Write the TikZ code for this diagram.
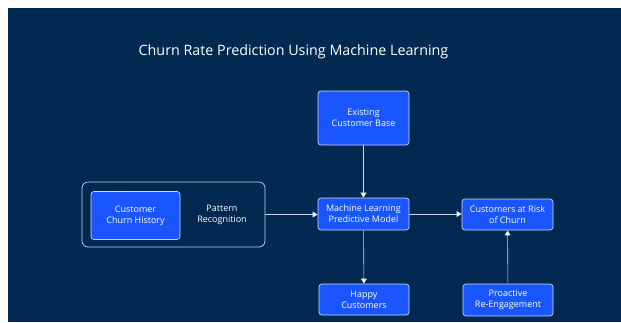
\documentclass[tikz,border=0pt]{standalone}
\usepackage{fontspec}
\setmainfont{Open Sans}
\usetikzlibrary{arrows.meta}
\definecolor{navy}{RGB}{1,41,82}
\definecolor{boxblue}{RGB}{26,86,255}
\definecolor{paleline}{RGB}{205,215,235}
\begin{document}
\begin{tikzpicture}[x=1pt,y=-1pt,
        box/.style={draw=paleline,line width=0.7pt,fill=boxblue,rounded corners=3pt,
                    text=white,font=\fontsize{9}{11}\selectfont,align=center,inner sep=0pt},
        flow/.style={draw=paleline,line width=0.6pt,-{Triangle[width=6pt,length=5pt,fill=white]}}]
        \useasboundingbox (0,0) rectangle (621,322);
        \fill[white] (0,0) rectangle (621,322);
        \fill[navy] (8,8) rectangle (621,322);

        \node[text=white,font=\fontsize{14.3}{17}\selectfont] (title) at (293.5,52) {Churn Rate Prediction Using Machine Learning};

        % left group
        \draw[paleline,line width=0.7pt,rounded corners=6pt] (82,182) rectangle (265,247);
        \coordinate (grpE) at (265,214.5);
        \node[box,minimum width=89pt,minimum height=48pt] (hist) at (135.5,215.5) {Customer\\Churn History};
        \node[text=white,font=\fontsize{9}{11}\selectfont,align=center] (pat) at (222,214.5) {Pattern\\Recognition};

        \node[box,minimum width=91pt,minimum height=54pt] (base) at (363.5,118) {Existing\\Customer Base};
        \node[box,minimum width=91pt,minimum height=32pt] (model) at (363.5,214) {Machine Learning\\Predictive Model};
        \node[box,minimum width=91pt,minimum height=31pt] (risk) at (507.5,214.5) {Customers at Risk\\of Churn};
        \node[box,minimum width=90pt,minimum height=31pt] (happy) at (364,299.5) {Happy\\Customers};
        \node[box,minimum width=90pt,minimum height=32pt] (react) at (508,300) {Proactive\\Re-Engagement};

        \draw[flow] (base) -- (model);
        \draw[flow] (grpE) -- (model.west |- grpE);
        \draw[flow] (model) -- (risk.west |- model);
        \draw[flow] (model) -- (happy);
        \draw[flow] (react) -- (risk);

    \end{tikzpicture}
\end{document}
